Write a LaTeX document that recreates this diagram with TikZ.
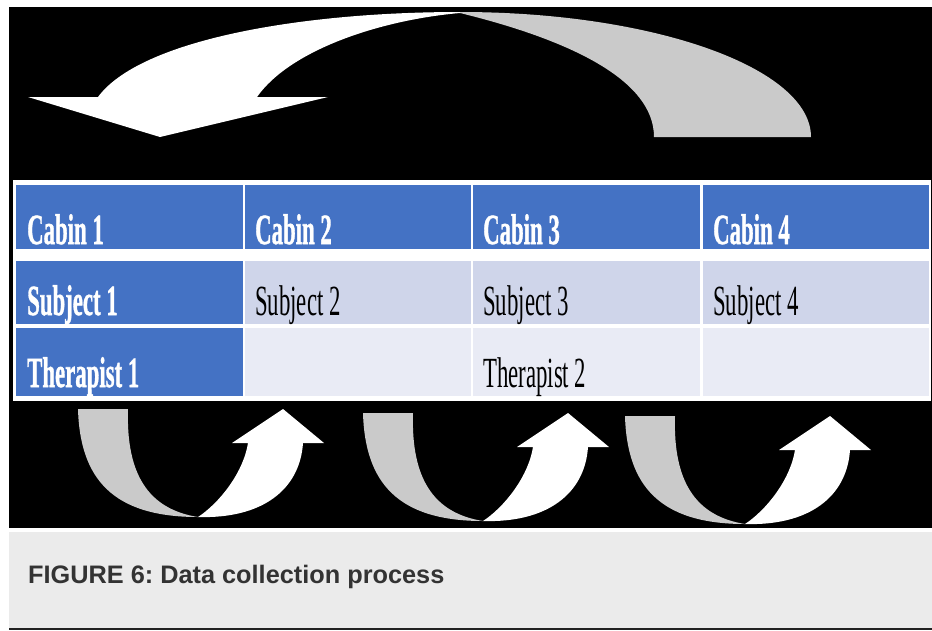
\documentclass[tikz,border=0pt]{standalone}
\usepackage{fontspec}
\setmainfont{Liberation Serif}[BoldFeatures={FakeBold=1.3}]
\newfontfamily\capfont{Liberation Sans}
\definecolor{tblue}{HTML}{4472C4}
\definecolor{tlight}{HTML}{CFD5EA}
\definecolor{tpale}{HTML}{E9EBF5}
\definecolor{agray}{HTML}{CACACA}
\definecolor{capbg}{HTML}{EBEBEB}
\definecolor{captext}{HTML}{333333}
\definecolor{rule}{HTML}{222222}
\frenchspacing
\begin{document}
\begin{tikzpicture}[x=1pt,y=-1pt,
  cellbox/.style={draw=none, inner sep=0pt, outer sep=0pt, anchor=north west},
  bluecell/.style={cellbox, fill=tblue},
  lightcell/.style={cellbox, fill=tlight},
  palecell/.style={cellbox, fill=tpale},
  wtext/.style={inner sep=0pt, anchor=base west, text=white, font=\bfseries},
  ktext/.style={inner sep=0pt, anchor=base west, text=black},
  grayarrow/.style={fill=agray, draw=none},
  whitearrow/.style={fill=white, draw=none}]
\useasboundingbox (0,0) rectangle (932,630);
% backgrounds
\fill[black] (9,7) rectangle (932,528);
\fill[capbg] (9,532) rectangle (932,628);
\fill[rule] (9,628) rectangle (932,630);
% top arrow
\path[grayarrow] (460,12) .. controls (654,12) and (811,68) .. (811,137)
  -- (654,137) .. controls (654,80) and (570,40) .. (460,13) -- cycle;
\path[whitearrow] (460,12) .. controls (300,12) and (140,40) .. (98,97)
  -- (28,97) -- (160,137) -- (328,97) -- (257,97)
  .. controls (290,50) and (380,20) .. (460,13) -- cycle;
% table
\fill[white] (13,180) rectangle (931,401);
\node[bluecell, minimum width=227pt, minimum height=64pt] (h1) at (16,185) {};
\node[bluecell, minimum width=226pt, minimum height=64pt] (h2) at (245,185) {};
\node[bluecell, minimum width=227pt, minimum height=64pt] (h3) at (473,185) {};
\node[bluecell, minimum width=226pt, minimum height=64pt] (h4) at (703,185) {};
\node[bluecell, minimum width=227pt, minimum height=63pt] (s1) at (16,261) {};
\node[lightcell, minimum width=226pt, minimum height=63pt] (s2) at (245,261) {};
\node[lightcell, minimum width=227pt, minimum height=63pt] (s3) at (473,261) {};
\node[lightcell, minimum width=226pt, minimum height=63pt] (s4) at (703,261) {};
\node[bluecell, minimum width=227pt, minimum height=68pt] (t1) at (16,328) {};
\node[palecell, minimum width=226pt, minimum height=68pt] (t2) at (245,328) {};
\node[palecell, minimum width=227pt, minimum height=68pt] (t3) at (473,328) {};
\node[palecell, minimum width=226pt, minimum height=68pt] (t4) at (703,328) {};
% texts
\newcommand{\cell}[1]{\scalebox{0.53}[1]{\fontsize{43}{43}\selectfont #1}}
\node[wtext] (lh1) at (27,244) {\cell{\bfseries Cabin 1}};
\node[wtext] (lh2) at (255,244) {\cell{\bfseries Cabin 2}};
\node[wtext] (lh3) at (483,244) {\cell{\bfseries Cabin 3}};
\node[wtext] (lh4) at (713,244) {\cell{\bfseries Cabin 4}};
\node[wtext] (ls1) at (27,315) {\cell{\bfseries Subject 1}};
\node[ktext] (ls2) at (255,315) {\cell{Subject 2}};
\node[ktext] (ls3) at (483,315) {\cell{Subject 3}};
\node[ktext] (ls4) at (713,315) {\cell{Subject 4}};
\node[wtext] (lt1) at (27,387) {\cell{\bfseries Therapist 1}};
\node[ktext] (lt3) at (483,387) {\cell{Therapist 2}};
% bottom arrows
\foreach \x/\y in {78/409, 363/413, 625/416} {
  \begin{scope}[shift={(\x,\y)}]
    \path[grayarrow] (0,0) -- (50,0) .. controls (48,65) and (70,100) .. (120,108)
      .. controls (35,108) and (2,70) .. (0,0) -- cycle;
    \path[whitearrow] (120,108) .. controls (140,95) and (165,65) .. (170,34)
      -- (154,34) -- (205,0) -- (246,34) -- (225,34)
      .. controls (222,80) and (185,110) .. (120,108) -- cycle;
  \end{scope}
}
% caption
\node[inner sep=0pt, anchor=base west, text=captext, font=\capfont\bfseries\fontsize{25.3}{25.3}\selectfont] (cap) at (28,583) {FIGURE 6: Data collection process};
\end{tikzpicture}
\end{document}
